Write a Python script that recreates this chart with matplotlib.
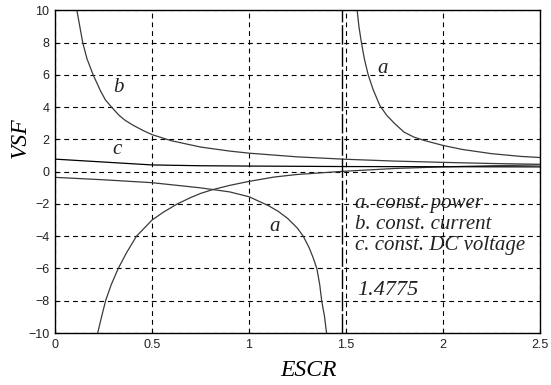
"""
VSF versus ESCR for three load types
"""

import matplotlib
matplotlib.use('Agg')
from matplotlib import pyplot as plt

# curve a, upper branch (right of the critical ESCR)
a_up_x = [1.558, 1.567, 1.58, 1.595, 1.615, 1.64, 1.675, 1.71, 1.75, 1.8, 1.85, 1.9, 2.0,
          2.1, 2.25, 2.4, 2.5]
a_up_y = [10, 9, 8, 7, 6, 5.1, 4.1, 3.5, 3.0, 2.45, 2.15, 1.95, 1.63, 1.38, 1.12, 0.95, 0.88]

# curve a, lower branch
a_lo_x = [0, 0.25, 0.5, 0.75, 0.9, 1.0, 1.1, 1.15, 1.2, 1.25, 1.28, 1.31, 1.33, 1.35, 1.365,
          1.375, 1.39, 1.40]
a_lo_y = [-0.35, -0.5, -0.68, -1.0, -1.25, -1.55, -2.1, -2.45, -2.9, -3.5, -4.0, -4.7, -5.3,
          -6.0, -7.0, -8.0, -9.0, -10]

# rising branch
r_x = [0.22, 0.24, 0.261, 0.29, 0.326, 0.37, 0.42, 0.46, 0.5, 0.56, 0.63, 0.7, 0.75, 0.81,
       0.9, 1.0, 1.13, 1.25, 1.48, 1.75, 2.0, 2.25, 2.5]
r_y = [-10, -9, -8, -7, -6, -5, -4, -3.5, -3.0, -2.5, -2.0, -1.6, -1.35, -1.12, -0.85, -0.6,
       -0.33, -0.17, 0.02, 0.2, 0.3, 0.37, 0.42]

# curve b, const. current
b_x = [0.113, 0.128, 0.143, 0.165, 0.197, 0.235, 0.26, 0.292, 0.33, 0.36, 0.4, 0.45, 0.5,
       0.6, 0.75, 0.9, 1.0, 1.25, 1.5, 1.75, 2.0, 2.25, 2.5]
b_y = [10, 9, 8, 7, 6, 5, 4.45, 4, 3.5, 3.2, 2.9, 2.58, 2.3, 1.92, 1.53, 1.28, 1.15, 0.92,
       0.77, 0.66, 0.58, 0.51, 0.46]

# curve c, const. DC voltage
c_x = [0, 0.25, 0.5, 0.75, 1.0, 1.5, 2.0, 2.5]
c_y = [0.78, 0.6, 0.42, 0.37, 0.35, 0.32, 0.31, 0.30]

escr_crit = 1.4775
legend_lines = ['a. const. power', 'b. const. current', 'c. const. DC voltage']

plt.rcParams['lines.scale_dashes'] = False
serif = 'Liberation Serif'
sans = 'Liberation Sans'

fig = plt.figure(figsize=(5.51, 3.85), dpi=100)
ax = fig.add_axes([0.0998, 0.135, 0.880, 0.838])

grey = '#3a3a3a'
ax.plot(a_up_x, a_up_y, color=grey, lw=0.9)
ax.plot(a_lo_x, a_lo_y, color=grey, lw=0.9)
ax.plot(r_x, r_y, color=grey, lw=0.9)
ax.plot(b_x, b_y, color=grey, lw=0.9)
ax.plot(c_x, c_y, color='black', lw=0.9)
ax.axvline(escr_crit, color='black', lw=1.0, dashes=(14, 2))

ax.set_xlim(0, 2.5)
ax.set_ylim(-10, 10)
ax.set_xticks([0, 0.5, 1, 1.5, 2, 2.5])
ax.set_xticklabels(['0', '0.5', '1', '1.5', '2', '2.5'])
ax.set_yticks(range(-10, 11, 2))
ax.grid(True, color='black', lw=0.8, dashes=(3.5, 2.8))
ax.tick_params(direction='in', length=3, width=0.8, labelsize=9, pad=4)
for lab in ax.get_xticklabels() + ax.get_yticklabels():
    lab.set_family(sans)
    lab.set_color('#222222')
for s in ax.spines.values():
    s.set_linewidth(1.0)

ax.set_xlabel('ESCR', family=serif, style='italic', fontsize=17)
ax.xaxis.set_label_coords(0.523, -0.115)
ax.xaxis.label.set_verticalalignment('center')
ax.set_ylabel('VSF', family=serif, style='italic', fontsize=17)
ax.yaxis.set_label_coords(-0.072, 0.606)
ax.yaxis.label.set_verticalalignment('center')

lbl = dict(family=serif, style='italic', fontsize=15, ha='center', va='center', color='#222222')
ax.text(0.325, 5.2, 'b', **lbl)
ax.text(0.32, 1.35, 'c', **lbl)
ax.text(1.69, 6.4, 'a', **lbl)
ax.text(1.13, -3.4, 'a', **lbl)

for txt, yb in zip(legend_lines, [-2.27, -3.58, -4.86]):
    ax.text(1.546, yb, txt, family=serif, style='italic', fontsize=15, va='baseline',
            color='#222222')
ax.text(1.556, -7.62, '%.4f' % escr_crit, family=serif, style='italic', fontsize=16,
        va='baseline', color='#222222')

plt.savefig('out.png', dpi=100)
